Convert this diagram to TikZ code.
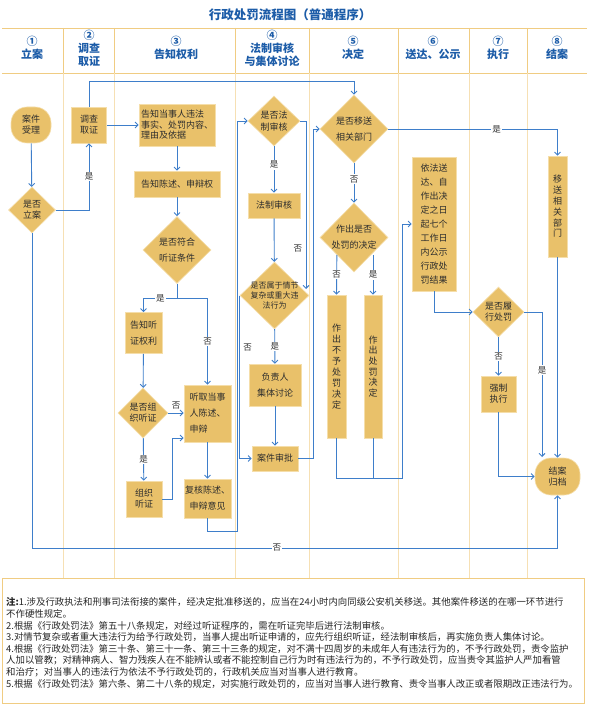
\documentclass[tikz,border=0pt]{standalone}
\usepackage{fontspec}
\setmainfont{Noto Sans CJK SC}
\usetikzlibrary{shapes.geometric,arrows.meta}

\definecolor{boxgold}{RGB}{233,193,106}
\definecolor{boxedge}{RGB}{245,222,170}
\definecolor{flowblue}{RGB}{62,126,202}
\definecolor{headblue}{RGB}{28,92,168}
\definecolor{headrule}{RGB}{240,204,130}
\definecolor{lanerule}{RGB}{246,224,180}
\definecolor{inkgray}{RGB}{45,45,45}

\newcommand{\lanehead}[3]{\node(#1)[head] at (#2){#3}}

\begin{document}
\begin{tikzpicture}[x=1pt,y=-1pt,
    every node/.style={font=\fontsize{9}{11}\selectfont,text=inkgray},
    head/.style={font=\fontsize{11}{13}\selectfont\bfseries,text=headblue,align=center},
    proc/.style={rectangle,fill=boxgold,draw=boxedge,line width=0.6pt,inner sep=1pt,align=center},
    roundbox/.style={proc,rounded corners=16pt},
    decision/.style={diamond,fill=boxgold,draw=boxedge,line width=0.6pt,inner sep=-15pt,align=center},
    loose/.style={font=\fontsize{9}{16}\selectfont},
    branch/.style={fill=white,inner sep=1pt,font=\fontsize{8.5}{10}\selectfont},
    flow/.style={draw=flowblue,line width=0.9pt,-{Straight Barb[length=3pt,width=6pt]}},
    link/.style={draw=flowblue,line width=0.9pt}
  ]
  \useasboundingbox (0,0) rectangle (590,708);
  \fill[white] (0,0) rectangle (590,708);

  % Title
  \node (title) [head,font=\fontsize{12.5}{14}\selectfont\bfseries] at (290,15) {行政处罚流程图（普通程序）};

  % Swim lanes: header rules and column separators
  \draw[headrule,line width=0.8pt] (2,28) -- (587,28) (2,73) -- (587,73);
  \foreach \x in {63,114,235,309,398,469,527} {
    \draw[headrule,line width=0.8pt] (\x,28) -- (\x,73);
    \draw[lanerule,line width=0.8pt] (\x,73) -- (\x,578);
  }

  % Lane headers
  \lanehead{h1}{32,47.5}{①\\立案};
  \lanehead{h2}{89,48}{②\\调查\\取证};
  \lanehead{h3}{176,47.5}{③\\告知权利};
  \lanehead{h4}{272,48}{④\\法制审核\\与集体讨论};
  \lanehead{h5}{353,47.5}{⑤\\决定};
  \lanehead{h6}{433,47.5}{⑥\\送达、公示};
  \lanehead{h7}{498,47.5}{⑦\\执行};
  \lanehead{h8}{557,47.5}{⑧\\结案};

  % Lane 1: filing
  \node (accept) [roundbox,minimum width=40pt,minimum height=36pt] at (31,125) {案件\\受理};
  \node (fileq) [decision,minimum width=47pt,minimum height=46pt] at (32,210) {是否\\立案};

  % Lane 2: investigation
  \node (probe) [proc,minimum width=35pt,minimum height=36pt] at (89,125) {调查\\取证};

  % Lane 3: notification of rights
  \node (notify) [proc,align=left,minimum width=76pt,minimum height=42pt,font=\fontsize{9}{10.5}\selectfont] at (177,125) {告知当事人违法\\事实、处罚内容、\\理由及依据};
  \node (plead) [proc,minimum width=86pt,minimum height=26pt] at (177,184) {告知陈述、申辩权};
  \node (hearq) [decision,loose,minimum width=68pt,minimum height=67pt] at (177,250) {是否符合\\听证条件};
  \node (hearnote) [proc,loose,minimum width=37pt,minimum height=41pt] at (143.5,333) {告知听\\证权利};
  \node (holdq) [decision,minimum width=50pt,minimum height=50pt] at (143,413) {是否组\\织听证};
  \node (listen) [proc,loose,align=left,minimum width=47pt,minimum height=57pt] at (207.5,413.5) {听取当事\\人陈述、\\申辩};
  \node (hold) [proc,minimum width=36pt,minimum height=36pt] at (144,499) {组织\\听证};
  \node (recheck) [proc,loose,minimum width=47pt,minimum height=39pt] at (207.5,498.5) {复核陈述、\\申辩意见};

  % Lane 4: legal review and group discussion
  \node (lawq) [decision,font=\fontsize{9}{12}\selectfont,minimum width=52pt,minimum height=50pt] at (274,121) {是否法\\制审核};
  \node (legal) [proc,minimum width=52pt,minimum height=25pt] at (274,205.5) {法制审核};
  \node (complexq) [decision,font=\fontsize{8}{10}\selectfont,minimum width=69pt,minimum height=67pt] at (274.5,295.5) {是否属于情节\\复杂或重大违\\法行为};
  \node (leaders) [proc,loose,minimum width=52pt,minimum height=42pt] at (275,385) {负责人\\集体讨论};
  \node (approve) [proc,minimum width=46pt,minimum height=25pt] at (275,458.5) {案件审批};

  % Lane 5: decision
  \node (transq) [decision,loose,minimum width=68pt,minimum height=68pt] at (354,129) {是否移送\\相关部门};
  \node (decideq) [decision,loose,minimum width=68pt,minimum height=69pt] at (354,237.5) {作出是否\\处罚的决定};
  \node (nopunish) [proc,font=\fontsize{9}{10.9}\selectfont,minimum width=19pt,minimum height=143pt] at (336.5,366.5) {作\\出\\不\\予\\处\\罚\\决\\定};
  \node (punish) [proc,font=\fontsize{9}{10.7}\selectfont,minimum width=18pt,minimum height=143pt] at (373,366.5) {作\\出\\处\\罚\\决\\定};

  % Lane 6: service and publication
  \node (deliver) [proc,font=\fontsize{9}{14.1}\selectfont,minimum width=44pt,minimum height=134pt] at (434,224) {依法送\\达、自\\作出决\\定之日\\起七个\\工作日\\内公示\\行政处\\罚结果};

  % Lane 7: enforcement
  \node (performq) [decision,minimum width=51pt,minimum height=50pt] at (498.5,312) {是否履\\行处罚};
  \node (enforce) [proc,minimum width=35pt,minimum height=36pt] at (498.5,394) {强制\\执行};

  % Lane 8: closing
  \node (handover) [proc,font=\fontsize{9}{10.8}\selectfont,minimum width=19pt,minimum height=101pt] at (557.5,206.5) {移\\送\\相\\关\\部\\门};
  \node (archive) [roundbox,minimum width=45pt,minimum height=37pt] at (557.5,476.5) {结案\\归档};

  % Bend points
  \coordinate (topbend) at (354,81);
  \coordinate (split) at (177,298);
  \coordinate (backrun) at (237,531);
  \coordinate (noreview) at (306,289);
  \coordinate (merge) at (402,478);
  \coordinate (donein) at (542,457);
  \coordinate (bottomrun) at (32,548);

  % Connectors
  \draw[flow] (accept) -- (fileq);
  \draw[flow] (fileq.east) -| node[branch,pos=0.75]{是} (probe.south);
  \draw[flow] (fileq.south) -- (bottomrun) -| node[branch,pos=0.233]{否} (archive.south);
  \draw[flow] (probe) -- (notify);
  \draw[flow] (probe.north) |- (topbend) -- (transq.north);
  \draw[flow] (notify) -- (plead);
  \draw[flow] (plead) -- (hearq);
  \draw[flow] (hearq.south) -- (split) -| node[branch,pos=0.25]{是} (hearnote.north);
  \draw[flow] (split) -| node[branch,pos=0.75]{否} (listen.north);
  \draw[flow] (hearnote) -- (holdq);
  \draw[flow] (holdq) -- node[above,font=\fontsize{8.5}{10}\selectfont]{否} (listen.west |- holdq);
  \draw[flow] (holdq) -- node[branch]{是} (hold);
  \draw[flow] (hold.east) -- ++(10,0) |- ([shift={(0,24.5)}]listen.west);
  \draw[flow] (listen) -- (recheck);
  \draw[flow] (recheck.south) |- (backrun) |- (lawq.west);
  \draw[flow] (lawq) -- node[branch,pos=0.4]{是} (legal);
  \draw[flow] (lawq.east) -| node[left,pos=0.88,font=\fontsize{8.5}{10}\selectfont]{否} (noreview);
  \draw[flow] (legal) -- (complexq);
  \draw[flow] (complexq) -- node[branch]{是} (leaders);
  \draw[flow] (complexq.west) |- node[right,pos=0.16,font=\fontsize{8.5}{10}\selectfont]{否} (approve.west);
  \draw[flow] (leaders) -- (approve);
  \draw[flow] (approve.east) -- ++(15,0) |- (transq.west);
  \draw[flow] (transq.east) -| node[branch,pos=0.32]{是} (handover.north);
  \draw[flow] (transq) -- node[branch,pos=0.4]{否} (decideq);
  \draw[flow] (decideq.south west) -- node[branch]{否} (nopunish.north);
  \draw[flow] (punish.north |- decideq.south east) -- node[branch]{是} (punish.north);
  \draw[flow] (nopunish.south) |- (merge) |- (deliver.west);
  \draw[link] (punish.south) -- (punish.south |- merge);
  \draw[flow] (deliver.south) |- (performq.west);
  \draw[flow] (performq.east) -| node[branch,pos=0.7]{是} (donein);
  \draw[flow] (performq) -- node[branch]{否} (enforce);
  \draw[flow] (enforce.south) |- (archive.west);
  \draw[flow] (handover) -- (archive);

  % Notes
  \draw[headrule,line width=0.8pt] (2,578) rectangle (584,703);
  \node (notes) [anchor=west,align=left,inner sep=0pt,text=black!85,font=\fontsize{9.4}{11.6}\selectfont] at (6,643) {%
    \textbf{注:}1.涉及行政执法和刑事司法衔接的案件，经决定批准移送的，应当在24小时内向同级公安机关移送。其他案件移送的在哪一环节进行\\
    不作硬性规定。\\
    2.根据《行政处罚法》第五十八条规定，对经过听证程序的，需在听证完毕后进行法制审核。\\
    3.对情节复杂或者重大违法行为给予行政处罚，当事人提出听证申请的，应先行组织听证，经法制审核后，再实施负责人集体讨论。\\
    4.根据《行政处罚法》第三十条、第三十一条、第三十三条的规定，对不满十四周岁的未成年人有违法行为的，不予行政处罚，责令监护\\
    人加以管教；对精神病人、智力残疾人在不能辨认或者不能控制自己行为时有违法行为的，不予行政处罚，应当责令其监护人严加看管\\
    和治疗；对当事人的违法行为依法不予行政处罚的，行政机关应当对当事人进行教育。\\
    5.根据《行政处罚法》第六条、第二十八条的规定，对实施行政处罚的，应当对当事人进行教育、责令当事人改正或者限期改正违法行为。};
\end{tikzpicture}
\end{document}
